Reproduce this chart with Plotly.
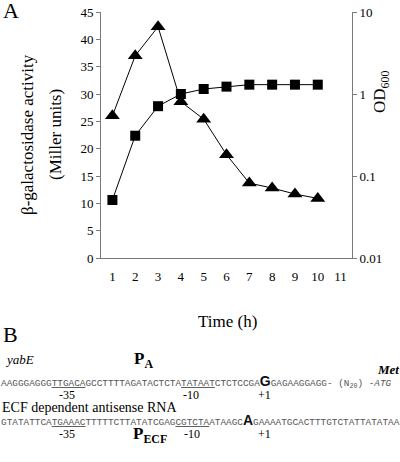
import plotly.graph_objects as go

# ---- data ----
hours = [1, 2, 3, 4, 5, 6, 7, 8, 9, 10]
beta_gal = [26.0, 37.0, 42.3, 28.6, 25.4, 18.9, 13.7, 12.8, 11.7, 10.9]   # Miller units (left axis)
od600 = [0.051, 0.31, 0.71, 1.0, 1.15, 1.23, 1.3, 1.3, 1.3, 1.3]          # OD600 (right, log axis)
x_ticks = list(range(1, 12))
left_ticks = list(range(0, 50, 5))
right_ticks = [0.01, 0.1, 1, 10]
right_labels = ["0.01", "0.1", "1", "10"]

W, H = 400, 462
ML, MR, MT, MB = 101, 48, 12, 204
PW, PH = W - ML - MR, H - MT - MB

SERIF = "Liberation Serif"
MONO = "Liberation Mono"
SANS = "Liberation Sans"
AXC = "#7a7a7a"


def px(x):
    return (x - ML) / PW


def py(y):
    return (H - MB - y) / PH


fig = go.Figure()
fig.add_trace(go.Scatter(
    x=hours, y=beta_gal, mode="lines+markers", yaxis="y",
    line=dict(color="black", width=1),
    marker=dict(symbol="triangle-up", size=13, color="black"),
    showlegend=False))
fig.add_trace(go.Scatter(
    x=hours, y=od600, mode="lines+markers", yaxis="y2",
    line=dict(color="black", width=1),
    marker=dict(symbol="square", size=10, color="black"),
    showlegend=False))

tickfont = dict(family=SERIF, size=13, color="black")
fig.update_layout(
    width=W, height=H,
    margin=dict(l=ML, r=MR, t=MT, b=MB, pad=0, autoexpand=False),
    paper_bgcolor="white", plot_bgcolor="white",
    font=dict(family=SERIF, color="black"),
    xaxis=dict(range=[0.5, 11.5], tickvals=x_ticks, ticks="outside",
               ticklen=6, tickcolor="rgba(0,0,0,0)", showgrid=False,
               zeroline=False, showline=True, linecolor=AXC, linewidth=1,
               tickfont=tickfont, automargin=False),
    yaxis=dict(range=[0, 45], tickvals=left_ticks, ticks="outside", ticklen=4,
               tickcolor=AXC, showgrid=False, zeroline=False, showline=True,
               linecolor=AXC, linewidth=1, tickfont=tickfont, automargin=False),
    yaxis2=dict(type="log", range=[-2, 1], tickvals=right_ticks,
                ticktext=right_labels, overlaying="y", side="right",
                ticks="outside", ticklen=4, tickcolor=AXC, showgrid=False,
                zeroline=False, showline=True, linecolor=AXC, linewidth=1,
                tickfont=tickfont, automargin=False),
)

ann = []


def add(text, x, y, size, xanchor="left", yanchor="middle", angle=0,
        family=SERIF, color="black"):
    ann.append(dict(text=text, x=px(x), y=py(y), xref="paper", yref="paper",
                    xanchor=xanchor, yanchor=yanchor, textangle=angle,
                    showarrow=False, borderpad=0,
                    font=dict(family=family, size=size, color=color)))


# panel A labels
add("A", 2, 10, 22)
add("β-galactosidase activity", 27, 135, 17, xanchor="center", angle=-90)
add("(Miller units)", 55, 135, 17, xanchor="center", angle=-90)
add("OD<sub>600</sub>", 381, 92, 17, xanchor="center", angle=-90)
add("Time (h)", 227, 321, 17, xanchor="center")

# panel B
add("B", 2, 334, 22)
add("<i>yabE</i>", 4, 359, 13)
add("<b>P<sub>A</sub></b>", 133, 360, 17)
add("<b><i>Met</i></b>", 376, 369, 13)

SEQC = "#555555"
big = '<span style="font-family:Liberation Sans;font-weight:bold;font-size:14px;fill:#111">{}</span>'
seq1 = ("AAGGGAGGG<u>TTGACA</u>GCCTTTTAGATACTCTA<u>TATAAT</u>CTCTCCGA"
        + big.format("G") + "GAGAAGGAGG- (N<sub>20</sub>) -<i>ATG</i>")
seq2 = ("GTATATTCA<u>TGAAAC</u>TTTTTCTTATATCGAG<u>CGTCTA</u>ATAAGC"
        + big.format("A") + "GAAAATGCACTTTGTCTATTATATAA")
add(seq1, 0, 382, 9.4, family=MONO, color=SEQC)
add("-35", 67, 395, 12, xanchor="center")
add("-10", 191, 395, 12, xanchor="center")
add("+1", 264, 395, 12, xanchor="center")

add("ECF dependent antisense RNA", 1, 407, 14)
add(seq2, 0, 420, 9.4, family=MONO, color=SEQC)
add("-35", 67, 434, 12, xanchor="center")
add("<b>P<sub>ECF</sub></b>", 132, 435, 17)
add("-10", 192, 434, 12, xanchor="center")
add("+1", 264, 434, 12, xanchor="center")

fig.update_layout(annotations=ann)
fig.write_html("out.html", config={"displayModeBar": False},
               post_script="document.body.style.margin='0';document.body.style.overflow='hidden';")
